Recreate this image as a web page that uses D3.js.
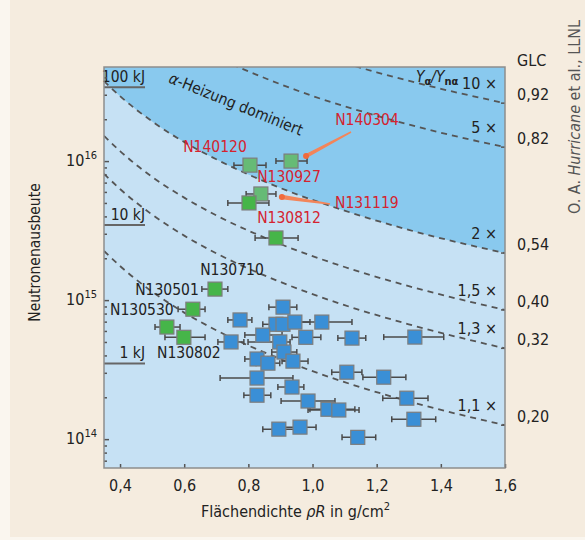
<!DOCTYPE html>
<html lang="de">
<head>
<meta charset="UTF-8">
<title>Neutronenausbeute</title>
<script src="https://d3js.org/d3.v7.min.js"></script>
<style>
  body { margin: 0; background: #faf6ef; }
  svg text { font-family: "Liberation Sans Narrow", "DejaVu Sans Condensed", "Open Sans", sans-serif; }
</style>
</head>
<body>
<div id="graph"></div>
<script>
// Daten
const greenRhoR  = [0.805, 0.933, 0.839, 0.802, 0.886, 0.696, 0.627, 0.546, 0.599];
const greenYield = [9.35e15, 1.0e16, 5.8e15, 5.0e15, 2.8e15, 1.2e15, 8.6e14, 6.4e14, 5.4e14];
const greenLo    = [0.755, 0.886, 0.793, 0.736, 0.821, 0.655, 0.581, 0.509, 0.540];
const greenHi    = [0.855, 0.983, 0.886, 0.864, 0.955, 0.736, 0.665, 0.587, 0.665];

const blueRhoR  = [0.908, 0.774, 0.886, 0.908, 0.945, 1.029, 0.845, 0.979, 1.123, 1.319,
                   0.746, 0.898, 0.911, 0.827, 0.861, 0.939, 1.107, 1.222, 0.827, 0.936,
                   1.294, 0.827, 0.986, 1.048, 1.082, 1.316, 0.895, 0.961, 1.141];
const blueYield = [8.9e14, 7.2e14, 6.7e14, 6.7e14, 6.95e14, 6.95e14, 5.6e14, 5.4e14, 5.33e14, 5.42e14,
                   5.0e14, 5.0e14, 4.23e14, 3.77e14, 3.52e14, 3.64e14, 3.03e14, 2.79e14, 2.75e14, 2.37e14,
                   1.97e14, 2.07e14, 1.88e14, 1.64e14, 1.62e14, 1.39e14, 1.18e14, 1.22e14, 1.03e14];
const blueLo    = [0.864, 0.736, 0.845, 0.867, 0.908, 0.930, 0.789, 0.936, 1.079, 1.222,
                   0.705, 0.799, 0.873, 0.789, 0.824, 0.905, 1.060, 1.157, 0.712, 0.892,
                   1.219, 0.786, 0.902, 0.992, 0.986, 1.247, 0.845, 0.914, 1.092];
const blueHi    = [0.951, 0.811, 0.930, 0.961, 0.992, 1.123, 0.905, 1.026, 1.166, 1.409,
                   0.786, 0.930, 0.951, 0.861, 0.898, 0.986, 1.154, 1.291, 0.939, 0.973,
                   1.360, 0.870, 1.070, 1.132, 1.145, 1.384, 0.961, 1.011, 1.197];

// Kurven gleicher Verstärkung Y_alpha/Y_nalpha
const curveRhoR = [0.35, 0.4, 0.5, 0.6, 0.7, 0.9, 1.1, 1.3, 1.6];
const curve2x   = [3.76e16, 2.93e16, 1.93e16, 1.37e16, 1.03e16, 6.4e15, 4.4e15, 3.2e15, 2.18e15];
const curve15x  = [1.52e16, 1.18e16, 7.7e15, 5.46e15, 4.07e15, 2.53e15, 1.73e15, 1.26e15, 8.5e14];
const curve13x  = [8.1e15, 6.3e15, 4.12e15, 2.91e15, 2.17e15, 1.35e15, 9.2e14, 6.7e14, 4.5e14];
const curve11x  = [2.26e15, 1.76e15, 1.15e15, 8.13e14, 6.07e14, 3.77e14, 2.57e14, 1.87e14, 1.26e14];
const curve5xRhoR  = [0.75, 0.8, 1.0, 1.2, 1.4, 1.6];
const curve5x      = [4.95e16, 4.42e16, 2.94e16, 2.12e16, 1.6e16, 1.26e16];
const curve10xRhoR = [1.1, 1.2, 1.4, 1.6];
const curve10x     = [5.06e16, 4.35e16, 3.31e16, 2.61e16];

const gainLabels = ["10 ×", "5 ×", "2 ×", "1,5 ×", "1,3 ×", "1,1 ×"];
const glcLabels  = ["0,92", "0,82", "0,54", "0,40", "0,32", "0,20"];

const energyLabels = ["100 kJ", "10 kJ", "1 kJ"];
const energyYield  = [3.4e16, 3.47e15, 3.5e14];

const shotNames = ["N140120", "N130927", "N140304", "N131119", "N130812", "N130710", "N130501", "N130530", "N130802"];
const shotPoint = [0, 1, 1, 2, 3, 5, 5, 6, 8];

const xTicks = [0.4, 0.6, 0.8, 1.0, 1.2, 1.4, 1.6];
const yTicks = [1e14, 1e15, 1e16];

const margin = {top: 67, right: 80, bottom: 72, left: 104},
    width = 401,
    height = 401;
const fs = 15.5;

const root = d3.select("#graph")
    .append("svg")
    .attr("width", 585)
    .attr("height", 540);

root.append("rect").attr("x", 10).attr("y", 0).attr("width", 575).attr("height", 537).attr("fill", "#f5ecdf");

const svg = root.append("g")
    .attr("transform", `translate(${margin.left},${margin.top})`);

const x = d3.scaleLinear().domain([0.35, 1.6]).range([0, width]);
const y = d3.scaleLog().domain([6.2e13, 4.75e16]).range([height, 0]);

svg.append("clipPath").attr("id", "clip")
    .append("rect").attr("width", width).attr("height", height);

const plot = svg.append("g").attr("clip-path", "url(#clip)");

plot.append("rect").attr("width", width).attr("height", height).attr("fill", "#c6e1f4");

// Bereich alpha-Heizung dominiert
const pts2x = curveRhoR.map((r, i) => [r, curve2x[i]]);
plot.append("path")
    .datum(pts2x)
    .attr("fill", "#89c9ee")
    .attr("d", d3.area().x(d => x(d[0])).y0(-5).y1(d => y(d[1])).curve(d3.curveMonotoneX));

const curves = [
    {rho: curve10xRhoR, val: curve10x},
    {rho: curve5xRhoR, val: curve5x},
    {rho: curveRhoR, val: curve2x},
    {rho: curveRhoR, val: curve15x},
    {rho: curveRhoR, val: curve13x},
    {rho: curveRhoR, val: curve11x}
];
const line = d3.line().x(d => x(d[0])).y(d => y(d[1])).curve(d3.curveMonotoneX);
curves.forEach(c => {
    plot.append("path")
        .datum(c.rho.map((r, i) => [r, c.val[i]]))
        .attr("fill", "none")
        .attr("stroke", "#555")
        .attr("stroke-width", 1.8)
        .attr("stroke-dasharray", "6,5")
        .attr("d", line);
});

// Energie-Marken
energyLabels.forEach((lab, i) => {
    const yy = y(energyYield[i]);
    plot.append("line").attr("x1", 0).attr("x2", 41).attr("y1", yy).attr("y2", yy)
        .attr("stroke", "#666").attr("stroke-width", 2);
    svg.append("text").attr("x", 41).attr("y", yy - 5).attr("text-anchor", "end")
        .attr("font-size", fs).attr("fill", "#222").text(lab);
});

// Fehlerbalken und Punkte
function drawPoints(rho, val, lo, hi, fill) {
    const g = plot.append("g");
    rho.forEach((r, i) => {
        const yy = y(val[i]);
        g.append("line").attr("x1", x(lo[i])).attr("x2", x(hi[i])).attr("y1", yy).attr("y2", yy)
            .attr("stroke", "#4a4a4a").attr("stroke-width", 1.5);
        [lo[i], hi[i]].forEach(e => g.append("line")
            .attr("x1", x(e)).attr("x2", x(e)).attr("y1", yy - 3).attr("y2", yy + 3)
            .attr("stroke", "#4a4a4a").attr("stroke-width", 1.5));
    });
    rho.forEach((r, i) => {
        g.append("rect")
            .attr("x", x(r) - 7).attr("y", y(val[i]) - 7)
            .attr("width", 14).attr("height", 14)
            .attr("fill", typeof fill === "function" ? fill(i) : fill)
            .attr("stroke", "#7d7d7d").attr("stroke-width", 1.2);
    });
}
drawPoints(blueRhoR, blueYield, blueLo, blueHi, "#3a8fd6");
drawPoints(greenRhoR, greenYield, greenLo, greenHi, i => i < 3 ? "#66bb76" : "#46b549");

// Pfeile
function arrow(px, py, tx, ty) {
    svg.append("path")
        .attr("d", `M${px},${py - 1.5} L${tx},${ty} L${px},${py + 1.5} Z`)
        .attr("fill", "#f3855a").attr("stroke", "#f3855a").attr("stroke-width", 1.5);
    svg.append("circle").attr("cx", px).attr("cy", py).attr("r", 3).attr("fill", "#f06a3c");
}
arrow(x(greenHi[1]) - 1, y(greenYield[1]) - 5, 247, 65);
arrow(x(greenRhoR[2]) + 21, y(greenYield[2]) + 3, 226, 137);

// Beschriftungen der Schüsse
const shotLayout = [
    {dx: -35, dy: -13, c: "#d5232f"},
    {dx: -2, dy: 21, c: "#d5232f"},
    {dx: 76, dy: -36, c: "#d5232f"},
    {dx: 106, dy: 14, c: "#d5232f"},
    {dx: 40, dy: 20, c: "#d5232f"},
    {dx: 17, dy: -14, c: "#222"},
    {dx: -48, dy: 6, c: "#222"},
    {dx: -51, dy: 6, c: "#222"},
    {dx: 5, dy: 21, c: "#222"}
];
shotNames.forEach((n, i) => {
    const p = shotPoint[i], L = shotLayout[i];
    svg.append("text")
        .attr("x", x(greenRhoR[p]) + L.dx).attr("y", y(greenYield[p]) + L.dy)
        .attr("text-anchor", "middle").attr("font-size", fs).attr("fill", L.c).text(n);
});

// alpha-Heizung Text
const ah = svg.append("text")
    .attr("transform", "translate(130,42) rotate(22)")
    .attr("text-anchor", "middle").attr("font-size", fs).attr("fill", "#222");
ah.append("tspan").attr("font-style", "italic").text("α");
ah.append("tspan").text("-Heizung dominiert");

// Y_alpha / Y_nalpha
const yr = svg.append("text").attr("x", 312).attr("y", 15).attr("font-size", fs).attr("fill", "#222");
yr.append("tspan").attr("font-style", "italic").text("Y");
yr.append("tspan").attr("font-size", 11).attr("font-weight", "bold").attr("dy", 3).text("α");
yr.append("tspan").attr("font-style", "italic").attr("dy", -3).text("/Y");
yr.append("tspan").attr("font-size", 11).attr("font-weight", "bold").attr("dy", 3).text("nα");

// Verstärkung und GLC rechts
curves.forEach((c, i) => {
    const yy = y(c.val[c.val.length - 1]);
    svg.append("text").attr("x", width - 8).attr("y", yy - 14).attr("text-anchor", "end")
        .attr("font-size", 16).attr("fill", "#222").text(gainLabels[i]);
    svg.append("text").attr("x", width + 12).attr("y", yy - 3)
        .attr("font-size", 16).attr("fill", "#222").text(glcLabels[i]);
    svg.append("line").attr("x1", width - 4).attr("x2", width).attr("y1", yy).attr("y2", yy)
        .attr("stroke", "#555").attr("stroke-width", 1.5);
});
svg.append("text").attr("x", width + 12).attr("y", -1).attr("font-size", 16).attr("fill", "#222").text("GLC");

// Achsen
const minor = [];
[13, 14, 15, 16].forEach(e => d3.range(2, 10).forEach(m => {
    const v = m * Math.pow(10, e);
    if (v > 6.2e13 && v < 4.75e16) minor.push(v);
}));
svg.append("g").call(d3.axisLeft(y).tickValues(minor).tickSize(-3).tickFormat(""))
    .call(g => g.select(".domain").remove())
    .call(g => g.selectAll("line").attr("stroke", "#555").attr("stroke-width", 1.5));
svg.append("g").call(d3.axisLeft(y).tickValues(yTicks).tickSize(-5).tickFormat(""))
    .call(g => g.select(".domain").remove())
    .call(g => g.selectAll("line").attr("stroke", "#555").attr("stroke-width", 1.5));
yTicks.forEach(v => {
    const t = svg.append("text").attr("x", -7).attr("y", y(v) + 5)
        .attr("text-anchor", "end").attr("font-size", 16).attr("fill", "#222");
    t.append("tspan").text("10");
    t.append("tspan").attr("font-size", 11).attr("dy", -7).text(Math.log10(v));
});

svg.append("g")
    .attr("transform", `translate(0,${height})`)
    .call(d3.axisBottom(x).tickValues(xTicks).tickSize(-4).tickFormat(d => d3.format(".1f")(d).replace(".", ",")))
    .call(g => g.select(".domain").remove())
    .call(g => g.selectAll("line").attr("stroke", "#555").attr("stroke-width", 1.5))
    .call(g => g.selectAll("text").attr("font-size", 16).attr("fill", "#222").attr("dy", 0).attr("y", 23)
        .style("font-family", "'Liberation Sans Narrow', 'DejaVu Sans Condensed', sans-serif"));

svg.append("rect").attr("width", width).attr("height", height)
    .attr("fill", "none").attr("stroke", "#8d8d8d").attr("stroke-width", 1.5);

// Achsentitel
const xt = svg.append("text").attr("x", width / 2 - 9).attr("y", height + 49)
    .attr("text-anchor", "middle").attr("font-size", 16).attr("fill", "#222");
xt.append("tspan").text("Flächendichte ");
xt.append("tspan").attr("font-style", "italic").text("ρR");
xt.append("tspan").text(" in g/cm");
xt.append("tspan").attr("font-size", 11).attr("dy", -7).text("2");

svg.append("text").attr("transform", `translate(-64,${y(2.2e15)}) rotate(-90)`)
    .attr("text-anchor", "middle").attr("font-size", fs).attr("fill", "#222").text("Neutronenausbeute");

const cr = root.append("text").attr("transform", "translate(580,214) rotate(-90)")
    .attr("font-size", 16).attr("fill", "#555");
cr.append("tspan").text("O. A. ");
cr.append("tspan").attr("font-style", "italic").text("Hurricane");
cr.append("tspan").text(" et al., LLNL");
</script>
</body>
</html>
